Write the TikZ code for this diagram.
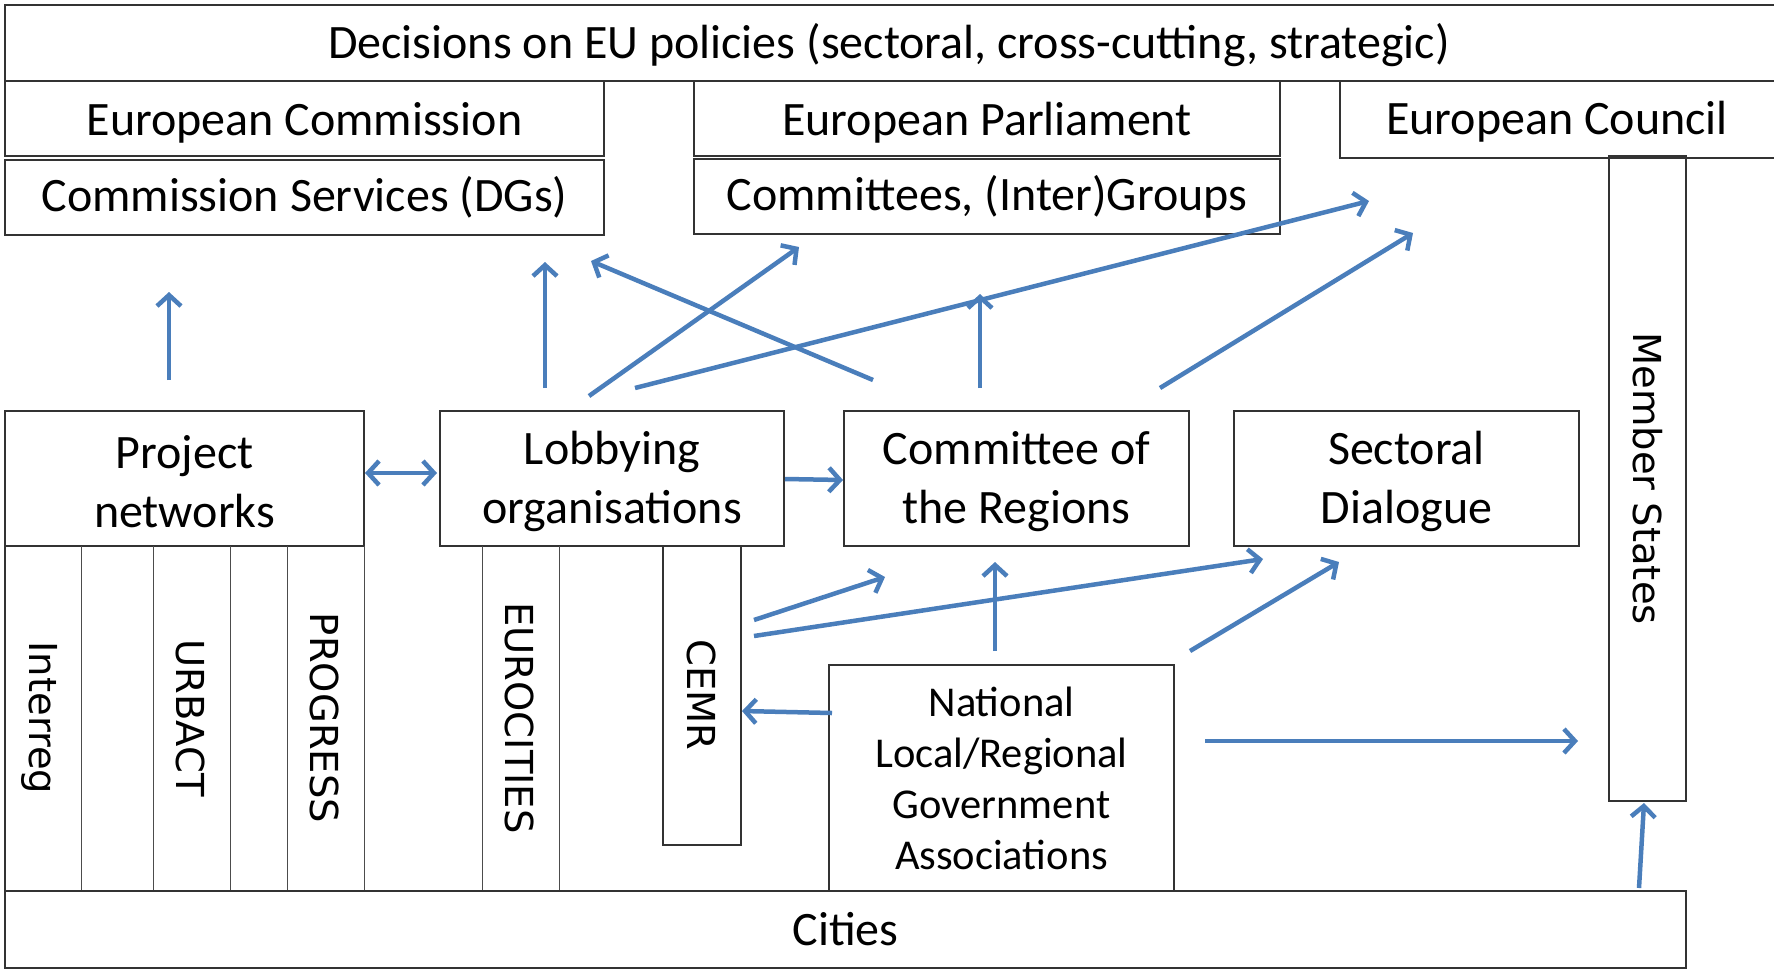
\documentclass[tikz,border=0pt]{standalone}
\usepackage{fontspec}
\setmainfont{Carlito}
\newfontfamily\rotfont{DejaVu Sans}
\usetikzlibrary{arrows.meta}
\definecolor{arr}{HTML}{4A7EBB}
\begin{document}
\begin{tikzpicture}[x=1pt,y=-1pt,
  box/.style={draw=black!80,line width=1.2pt,inner sep=0pt,font=\fontsize{48}{59}\selectfont,align=center},
  txt/.style={inner sep=0pt,font=\fontsize{48}{59}\selectfont,align=center},
  rbox/.style={draw=black!80,line width=1.2pt,inner sep=0pt},
  rtext/.style={rotate=-90,font=\rotfont\fontsize{38.5}{44}\selectfont,inner sep=0pt},
  link/.style={draw=arr,line width=4.5pt,-{Straight Barb[length=11pt,width=24pt]}},
  dlink/.style={draw=arr,line width=4.5pt,{Straight Barb[length=11pt,width=24pt]}-{Straight Barb[length=11pt,width=24pt]}}]
\useasboundingbox (0,0) rectangle (1774,970);
\fill[white] (0,0) rectangle (1774,970);
% top
\draw[black!80,line width=1.2pt] (1774,5) -- (5,5) -- (5,81) -- (1774,81);
\node[font=\fontsize{48}{58}\selectfont] (top) at (889,45) {Decisions on EU policies (sectoral, cross-cutting, strategic)};
% commission
\node[box,minimum width=599pt,minimum height=75pt,text depth=0pt] (ec) at (304.5,118.5) {European Commission};
\node[box,minimum width=599pt,minimum height=75pt] (cs) at (304.5,197.5) {Commission Services (DGs)};
\node[box,minimum width=586pt,minimum height=75pt,text depth=0pt] (ep) at (987,118.5) {European Parliament};
\node[box,minimum width=586pt,minimum height=75pt] (cg) at (987,196.5) {Committees, (Inter)Groups};
\draw[black!80,line width=1.2pt] (1774,158) -- (1340,158) -- (1340,81);
\node[font=\fontsize{48}{58}\selectfont] (ecn) at (1557,122) {European Council};
% member states
\node[rbox,minimum width=77pt,minimum height=645pt] (ms) at (1647.5,478.5) {};
\node[rtext] (mst) at (1647.5,478.5) {Member States};
% four boxes in the middle row
\node[rbox,minimum width=359pt,minimum height=135pt] (pn) at (184.5,478.5) {};
\node[rbox,minimum width=344pt,minimum height=135pt] (lo) at (612,478.5) {};
\node[rbox,minimum width=345pt,minimum height=135pt] (cor) at (1016.5,478.5) {};
\node[rbox,minimum width=345pt,minimum height=135pt] (sd) at (1406.5,478.5) {};
\node[txt] (pnt) at (184.5,481.5) {Project\\networks};
\node[txt] (lot) at (612,481.5) {Lobbying\\organisations};
\node[txt] (cort) at (1016.5,481.5) {Committee of\\the Regions};
\node[txt] (sdt) at (1406.5,481.5) {Sectoral\\Dialogue};
% columns
\draw[black!80,line width=1.2pt] (5,546) -- (5,891);
\draw[black!70,line width=1pt] (81,546) -- (81,891) (153,546) -- (153,891) (230,546) -- (230,891) (287,546) -- (287,891) (364,546) -- (364,891);
\draw[black!70,line width=1pt] (482,546) -- (482,891) (559,546) -- (559,891);
\node[rbox,minimum width=78pt,minimum height=299pt] (cemr) at (702,695.5) {};
\node[rtext] (t1) at (40,718) {Interreg};
\node[rtext] (t2) at (191,718) {URBACT};
\node[rtext] (t3) at (325,718) {PROGRESS};
\node[rtext] (t4) at (520,718) {EUROCITIES};
\node[rtext] (t5) at (702,695) {CEMR};
% national
\node[box,minimum width=345pt,minimum height=226pt,font=\fontsize{42.5}{51}\selectfont] (nat) at (1001.5,778) {National\\Local/Regional\\Government\\Associations};
% cities
\node[box,minimum width=1681pt,minimum height=77pt] (cit) at (845.5,929.5) {Cities};
% arrow endpoints
\coordinate (a1s) at (169,380); \coordinate (a1e) at (169,292);
\coordinate (a2s) at (545,388); \coordinate (a2e) at (545,262);
\coordinate (a3s) at (589,396); \coordinate (a3e) at (799,247);
\coordinate (a4s) at (873,380); \coordinate (a4e) at (591,261);
\coordinate (a5s) at (635,388); \coordinate (a5e) at (1369,201);
\coordinate (a6s) at (980,388); \coordinate (a6e) at (980,294);
\coordinate (a7s) at (1160,388); \coordinate (a7e) at (1413,233);
\coordinate (a8s) at (365,473); \coordinate (a8e) at (437,473);
\coordinate (a9s) at (785,479); \coordinate (a9e) at (843,480);
\coordinate (a10s) at (754,620); \coordinate (a10e) at (885,577);
\coordinate (a11s) at (754,636); \coordinate (a11e) at (1263,559);
\coordinate (a12s) at (995,651); \coordinate (a12e) at (995,562);
\coordinate (a13s) at (1190,651); \coordinate (a13e) at (1339,562);
\coordinate (a14s) at (832,713); \coordinate (a14e) at (742,711);
\coordinate (a15s) at (1205,741); \coordinate (a15e) at (1578,741);
\coordinate (a16s) at (1639,888); \coordinate (a16e) at (1644,803);
\foreach \i in {1,2,3,4,5,6,7,9,10,11,12,13,14,15,16}{\draw[link] (a\i s) -- (a\i e);}
\draw[dlink] (a8s) -- (a8e);
\end{tikzpicture}
\end{document}
